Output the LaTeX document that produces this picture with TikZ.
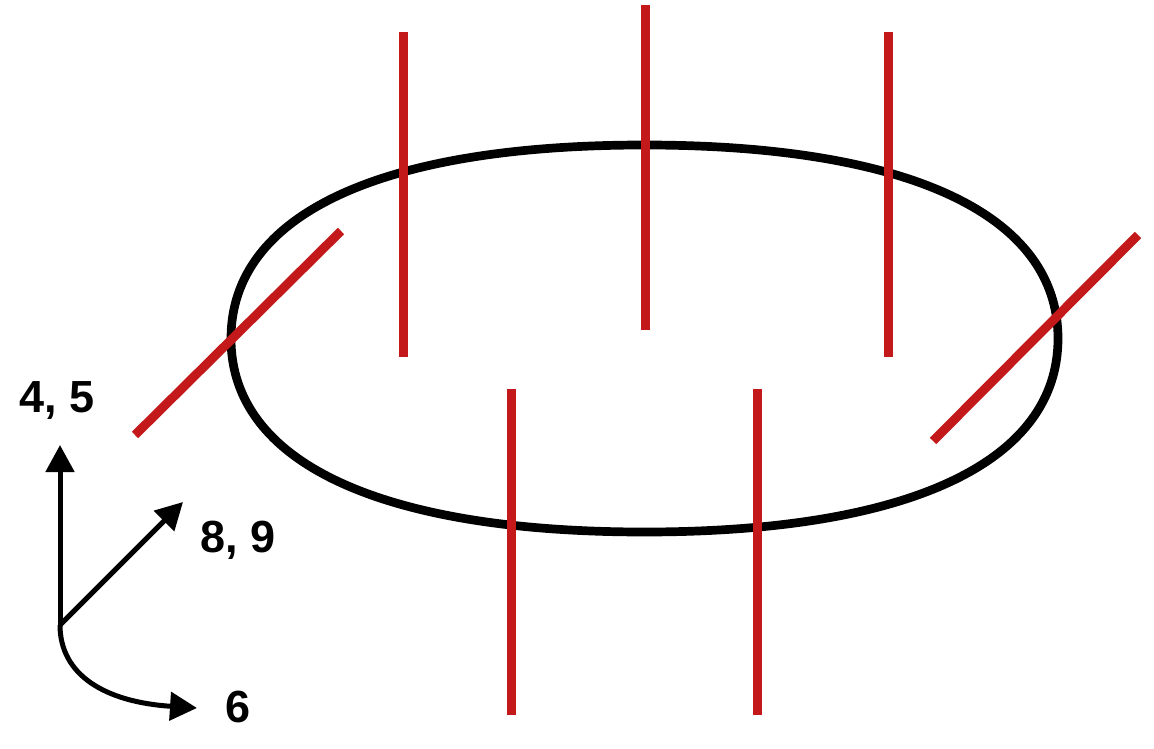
\documentclass[tikz,border=0pt]{standalone}
\usepackage{fontspec}
\setmainfont{Liberation Sans}
\usepackage{xcolor}
\usepackage{tikz}
\usetikzlibrary{arrows.meta,positioning}

\definecolor{rodred}{HTML}{C4191A}
\tikzset{
  rod/.style={draw=rodred,line width=9pt},
  ring/.style={draw=black,line width=8.7pt},
  axis/.style={draw=black,line width=5pt,-{Triangle[length=27pt,width=28pt]}},
  axlabel/.style={font=\fontsize{45}{54}\selectfont\bfseries,inner sep=0pt}
}

\begin{document}
\begin{tikzpicture}[x=1pt,y=-1pt]
\useasboundingbox (0,0) rectangle (1154,749);

% ring
\draw[ring] (231,338.5) .. controls (231,214.7) and (379.9,145) .. (644.5,145)
  .. controls (909.1,145) and (1058,214.7) .. (1058,338.5)
  .. controls (1058,462.3) and (909.1,532) .. (644.5,532)
  .. controls (379.9,532) and (231,462.3) .. (231,338.5) -- cycle;

% vertical rods
\foreach \x/\ya/\yb in {403/32/357,645/5/330,888/32/357,511/389/715,757/389/715} {
  \draw[rod] (\x,\ya) -- (\x,\yb);
}
% slanted rods
\draw[rod] (135,435) -- (341,231);
\draw[rod] (933,441) -- (1138,235);

% axes
\coordinate (o) at (60,625);
\coordinate (up) at (60,445);
\coordinate (diag) at (183,502);
\coordinate (rot) at (197,708);
\draw[axis] (o) -- (up);
\draw[axis] (o) -- (diag);
\draw[axis] (o) .. controls (60,675) and (105,702) .. (rot);
\node[axlabel] (l45) at (57,401) {4, 5};
\node[axlabel] (l89) at (238,540) {8, 9};
\node[axlabel] (l6) at (238,707) {6};
\end{tikzpicture}
\end{document}
